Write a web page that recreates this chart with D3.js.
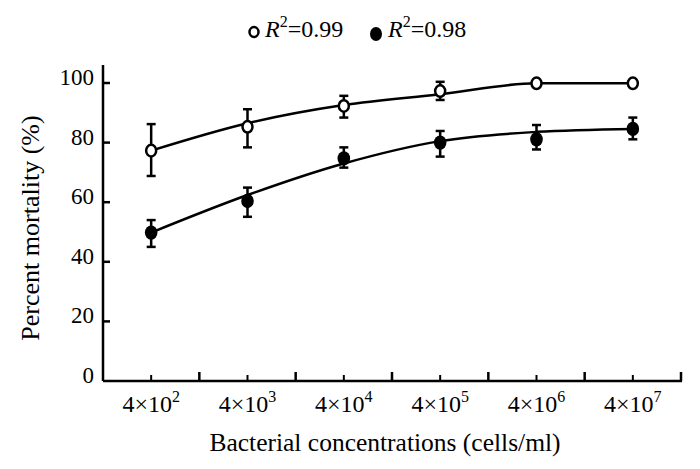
<!DOCTYPE html>
<html>
<head>
<meta charset="utf-8">
<script src="https://cdn.jsdelivr.net/npm/d3@7"></script>
<style>
  body { margin: 0; background: #fff; }
  text { font-family: "Liberation Serif", "Times New Roman", serif; fill: #000; }
</style>
</head>
<body>
<div id="chart"></div>
<script>
// categories (exponent of 4x10^n)
const exponents = [2, 3, 4, 5, 6, 7];

// open circles, R^2 = 0.99
const openMean = [77.3, 85.3, 92.3, 97.3, 99.9, 99.9];
const openLow  = [68.8, 78.4, 88.4, 94.3, null, null];
const openHigh = [86.2, 91.2, 95.7, 100.4, null, null];
const openFit  = [77.3, 86.5, 92.6, 96.2, 99.9, 99.9];

// filled circles, R^2 = 0.98
const fillMean = [49.8, 60.4, 74.7, 80.0, 81.1, 84.6];
const fillLow  = [45.0, 55.1, 71.6, 75.3, 77.7, 81.1];
const fillHigh = [54.0, 64.9, 78.4, 83.9, 85.9, 88.4];
const fillFit  = [49.8, 62.4, 73.0, 80.5, 83.6, 84.6];

const yTicks = [0, 20, 40, 60, 80, 100];

const width = 700, height = 469;

const svg = d3.select("#chart")
  .append("svg")
  .attr("width", width)
  .attr("height", height);

const x = d3.scaleBand()
  .domain(exponents)
  .range([103, 681])
  .padding(0);

const y = d3.scaleLinear()
  .domain([0, 100])
  .range([381, 83]);

const cx = d => x(d) + x.bandwidth() / 2;

// y axis
svg.append("line")
  .attr("x1", 103).attr("x2", 103)
  .attr("y1", y(0)).attr("y2", 65)
  .attr("stroke", "#000").attr("stroke-width", 2.5);

svg.selectAll(".ytick")
  .data(yTicks.filter(d => d > 0))
  .join("line")
  .attr("x1", 103).attr("x2", 110)
  .attr("y1", d => y(d)).attr("y2", d => y(d))
  .attr("stroke", "#000").attr("stroke-width", 2.5);

svg.selectAll(".ylab")
  .data(yTicks)
  .join("text")
  .attr("x", 94)
  .attr("y", d => y(d) + 2)
  .attr("text-anchor", "end")
  .style("font-size", "23px")
  .text(d => d);

// x axis
svg.append("line")
  .attr("x1", 103).attr("x2", 682)
  .attr("y1", y(0)).attr("y2", y(0))
  .attr("stroke", "#000").attr("stroke-width", 2.5);

// major ticks at band edges
svg.selectAll(".xmajor")
  .data(exponents)
  .join("line")
  .attr("x1", d => x(d) + x.bandwidth()).attr("x2", d => x(d) + x.bandwidth())
  .attr("y1", y(0)).attr("y2", y(0) - 9)
  .attr("stroke", "#000").attr("stroke-width", 2.5);

// minor ticks at band centers
svg.selectAll(".xminor")
  .data(exponents)
  .join("line")
  .attr("x1", cx).attr("x2", cx)
  .attr("y1", y(0)).attr("y2", y(0) - 6)
  .attr("stroke", "#000").attr("stroke-width", 2);

const xl = svg.selectAll(".xlab")
  .data(exponents)
  .join("text")
  .attr("x", cx)
  .attr("y", 412)
  .attr("text-anchor", "middle")
  .style("font-size", "24px");
xl.append("tspan").text("4\u00d710");
xl.append("tspan").attr("dy", -10).style("font-size", "16px").text(d => d);

// axis titles
svg.append("text")
  .attr("x", 385).attr("y", 451)
  .attr("text-anchor", "middle")
  .style("font-size", "25.5px")
  .text("Bacterial concentrations (cells/ml)");

svg.append("text")
  .attr("transform", "translate(39,228) rotate(-90)")
  .attr("text-anchor", "middle")
  .style("font-size", "26px")
  .text("Percent mortality (%)");

// fitted curves
const line = d3.line()
  .x((d, i) => cx(exponents[i]))
  .y(d => y(d))
  .curve(d3.curveMonotoneX);

svg.append("path").datum(openFit)
  .attr("d", line).attr("fill", "none")
  .attr("stroke", "#000").attr("stroke-width", 2.5);

svg.append("path").datum(fillFit)
  .attr("d", line).attr("fill", "none")
  .attr("stroke", "#000").attr("stroke-width", 2.5);

// error bars
function errorBars(low, high) {
  const rows = exponents.map((e, i) => ({ e, lo: low[i], hi: high[i] }))
    .filter(r => r.lo != null);
  const g = svg.append("g").attr("stroke", "#000").attr("stroke-width", 2.5);
  g.selectAll(".v").data(rows).join("line")
    .attr("x1", d => cx(d.e)).attr("x2", d => cx(d.e))
    .attr("y1", d => y(d.lo)).attr("y2", d => y(d.hi));
  g.selectAll(".t").data(rows).join("line")
    .attr("x1", d => cx(d.e) - 4.5).attr("x2", d => cx(d.e) + 4.5)
    .attr("y1", d => y(d.hi)).attr("y2", d => y(d.hi));
  g.selectAll(".b").data(rows).join("line")
    .attr("x1", d => cx(d.e) - 4.5).attr("x2", d => cx(d.e) + 4.5)
    .attr("y1", d => y(d.lo)).attr("y2", d => y(d.lo));
}
errorBars(openLow, openHigh);
errorBars(fillLow, fillHigh);

// markers
svg.selectAll(".openpt")
  .data(openMean)
  .join("ellipse")
  .attr("cx", (d, i) => cx(exponents[i]))
  .attr("cy", d => y(d))
  .attr("rx", 5).attr("ry", 5.8)
  .attr("fill", "#fff").attr("stroke", "#000").attr("stroke-width", 2.5);

svg.selectAll(".fillpt")
  .data(fillMean)
  .join("ellipse")
  .attr("cx", (d, i) => cx(exponents[i]))
  .attr("cy", d => y(d))
  .attr("rx", 6.3).attr("ry", 7.2)
  .attr("fill", "#000");

// legend
svg.append("ellipse")
  .attr("cx", 254).attr("cy", 32).attr("rx", 4.5).attr("ry", 5)
  .attr("fill", "#fff").attr("stroke", "#000").attr("stroke-width", 2.5);
svg.append("ellipse")
  .attr("cx", 376).attr("cy", 34).attr("rx", 6).attr("ry", 7)
  .attr("fill", "#000");

function legendText(xPos, val) {
  const t = svg.append("text").attr("x", xPos).attr("y", 37)
    .style("font-size", "24px");
  t.append("tspan").style("font-style", "italic").text("R");
  t.append("tspan").attr("dy", -10).style("font-size", "16px").text("2");
  t.append("tspan").attr("dy", 10).text("=" + val);
}
legendText(265, "0.99");
legendText(388, "0.98");
</script>
</body>
</html>
